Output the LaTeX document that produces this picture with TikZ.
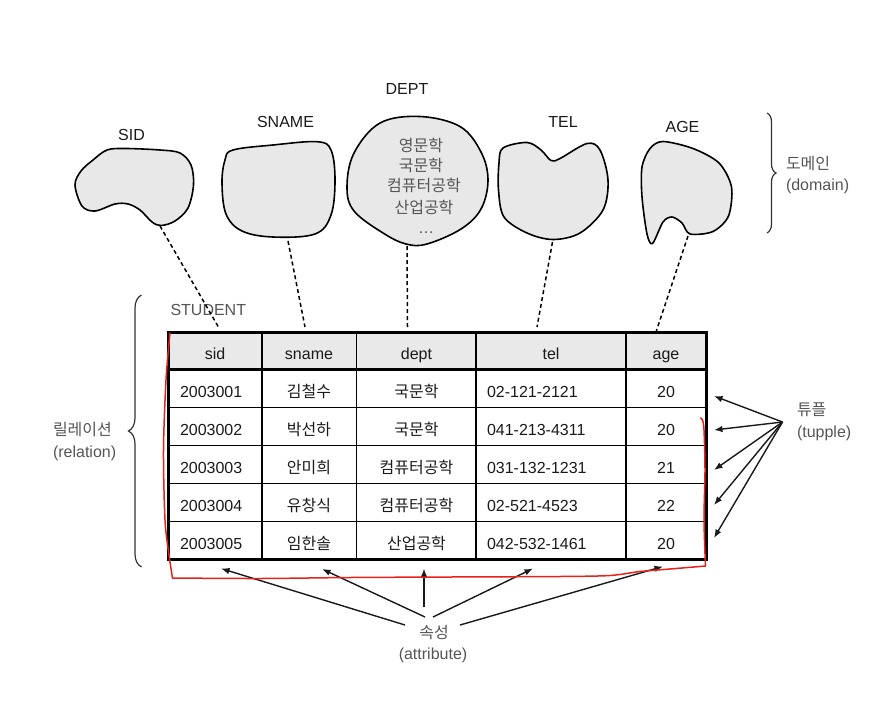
\documentclass[tikz,border=0pt]{standalone}
\usepackage{fontspec}
\setmainfont{Liberation Sans}
\newfontfamily\kr{Noto Sans CJK KR}
\usetikzlibrary{arrows.meta,decorations.pathreplacing}
\definecolor{blobgray}{HTML}{E8E8E8}
\definecolor{hdrgray}{HTML}{E9E9E9}
\definecolor{anngray}{HTML}{555555}
\definecolor{bracegray}{HTML}{333333}
\definecolor{txtblack}{HTML}{1A1A1A}
\definecolor{redink}{HTML}{E5231B}
\begin{document}
\begin{tikzpicture}[x=1pt,y=-1pt,
  every node/.style={inner sep=0pt, outer sep=0pt},
  txt/.style={font=\fontsize{16}{19}\selectfont, text=txtblack},
  ann/.style={font=\fontsize{16}{19}\selectfont, text=anngray},
  blob/.style={draw=black, line width=1.6pt, fill=blobgray, line join=round},
  domline/.style={dash pattern=on 4pt off 3pt, line width=1.5pt, black},
  arr/.style={-{Latex[length=8.5pt,width=6.5pt]}, line width=1.4pt, black!90},
  brc/.style={decorate, decoration={brace, amplitude=#1}, line width=1.2pt, bracegray},
  outerline/.style={line width=3pt, black},
  innerline/.style={line width=1.2pt, black},
  redline/.style={draw=redink, line width=1.5pt, line join=round, line cap=round}
]
\useasboundingbox (0,0) rectangle (893,709);

% ---------- domains (blobs) ----------
\draw[blob] plot[smooth cycle, tension=0.55] coordinates {(75,185) (81,171) (93,160) (107,150) (125,148.5) (160,150) (180,153) (191,165) (193.5,185) (188,208) (175,221) (161,225.5) (152,222) (140,210) (128,204) (115,204) (95,211) (82,206)};
\draw[blob] plot[smooth cycle, tension=0.6] coordinates {(233,150) (273,145) (317,141.7) (331,150) (335,180) (331,215) (315,234) (273,237) (242,231) (226,214) (222,183) (225,160)};
\draw[blob] plot[smooth cycle, tension=0.6] coordinates {(380,123) (420,116.5) (460,126.5) (481,152) (488,180) (481,209) (461,229) (427,244) (406,244) (383,233) (354,211) (347,187) (354,153)};
\draw[blob] plot[smooth cycle, tension=0.55] coordinates {(503,148) (527,142.5) (541,150) (551,160.5) (560,158.5) (587,143.5) (600,150) (608,180) (603,210) (580,233) (553,239.5) (527,233) (504,217) (498.5,190) (499,163)};
\draw[blob] plot[smooth cycle, tension=0.5] coordinates {(663,141.5) (693,148.5) (719,163) (731.5,187) (728.5,216) (713,231.5) (690,234) (682,223) (672,217) (663,222) (652.5,243.5) (647,234) (642,197) (642,167) (650,148.5)};

% domain labels
\node[txt, anchor=base] (lsid) at (131.5,140) {SID};
\node[txt, anchor=base] (lsname) at (285.5,127) {SNAME};
\node[txt, anchor=base] (ldept) at (407,94) {DEPT};
\node[txt, anchor=base] (ltel) at (563,127) {TEL};
\node[txt, anchor=base] (lage) at (682.5,132) {AGE};

% DEPT values
\node[txt, anchor=base, text=anngray] (d1) at (421,151) {\kr 영문학};
\node[txt, anchor=base, text=anngray] (d2) at (421,171) {\kr 국문학};
\node[txt, anchor=base, text=anngray] (d3) at (424,191) {\kr 컴퓨터공학};
\node[txt, anchor=base, text=anngray] (d4) at (424,213) {\kr 산업공학};
\node[txt, anchor=base, text=anngray] (d5) at (426,233) {\dots};

% ---------- table ----------
\fill[hdrgray] (168,332) rectangle (706,369.5);
\foreach \yy in {407.5,445.5,483.5,521.5} {\draw[innerline] (168,\yy) -- (706,\yy);}
\foreach \xx in {262,356.5,476,626} {\draw[innerline] (\xx,332) -- (\xx,559.5);}
\draw[line width=2.4pt] (168,369.5) -- (706,369.5);
\draw[outerline] (168,332) rectangle (706,559.5);

\node[txt, anchor=base] (hsid) at (215,359) {sid};
\node[txt, anchor=base] (hsname) at (309,359) {sname};
\node[txt, anchor=base] (hdept) at (416.5,359) {dept};
\node[txt, anchor=base] (htel) at (551,359) {tel};
\node[txt, anchor=base] (hage) at (666,359) {age};

\foreach \vid/\vnm/\vdv/\vtn/\vag [count=\k] in {2003001/김철수/국문학/02-121-2121/20, 2003002/박선하/국문학/041-213-4311/20, 2003003/안미희/컴퓨터공학/031-132-1231/21, 2003004/유창식/컴퓨터공학/02-521-4523/22, 2003005/임한솔/산업공학/042-532-1461/20} {
  \pgfmathsetmacro{\yb}{369.5+38*(\k-1)+28}
  \node[txt, anchor=base west] (id\k) at (180,\yb) {\vid};
  \node[txt, anchor=base] (nm\k) at (309,\yb) {\kr \vnm};
  \node[txt, anchor=base] (dv\k) at (416.5,\yb) {\kr \vdv};
  \node[txt, anchor=base west] (tn\k) at (487,\yb) {\vtn};
  \node[txt, anchor=base] (ag\k) at (666,\yb) {\vag};
}

\node[ann, anchor=west] (student) at (170.5,310) {STUDENT};

% ---------- dashed domain links ----------
\coordinate (sidb) at (160,226);   \coordinate (sidt) at (219,328);
\coordinate (snameb) at (288,241); \coordinate (snamet) at (305,327);
\coordinate (deptb) at (407,246);  \coordinate (deptt) at (407.5,327);
\coordinate (telb) at (552.5,242); \coordinate (telt) at (537,327);
\coordinate (ageb) at (688,236);   \coordinate (aget) at (655,335);
\draw[domline] (sidb) -- (sidt);
\draw[domline] (snameb) -- (snamet);
\draw[domline] (deptb) -- (deptt);
\draw[domline] (telb) -- (telt);
\draw[domline] (ageb) -- (aget);

% ---------- braces ----------
\coordinate (domtop) at (767,113); \coordinate (dombot) at (767,233);
\draw[brc=9pt] (domtop) -- (dombot);
\node[ann, anchor=west] (dom1) at (786,164) {\kr 도메인};
\node[ann, anchor=west] (dom2) at (786,186) {(domain)};

\coordinate (reltop) at (141.5,295); \coordinate (relbot) at (141.5,567);
\draw[brc=13pt] (relbot) -- (reltop);
\node[ann, anchor=west] (rel1) at (53,430) {\kr 릴레이션};
\node[ann, anchor=west] (rel2) at (53,453) {(relation)};

% ---------- tuple arrows ----------
\coordinate (tupsrc) at (782.5,422);
\foreach \ty [count=\t] in {396,430,470,505,538} {
  \coordinate (tup\t) at (714,\ty);
  \draw[arr] (tupsrc) -- (tup\t);
}
\node[ann, anchor=west] (tup) at (797,410) {\kr 튜플};
\node[ann, anchor=west] (tupen) at (797,433) {(tupple)};

% ---------- attribute arrows ----------
\coordinate (as1) at (405,625);   \coordinate (at1) at (221,568.5);
\coordinate (as2) at (425,617);   \coordinate (at2) at (322,569);
\coordinate (as3) at (424,607);   \coordinate (at3) at (424,568.5);
\coordinate (as4) at (433,617);   \coordinate (at4) at (533,568.5);
\coordinate (as5) at (460,625);   \coordinate (at5) at (663,566.5);
\foreach \a in {1,...,5} {\draw[arr] (as\a) -- (at\a);}
\node[ann] (attr1) at (434,632) {\kr 속성};
\node[ann] (attr2) at (433,655) {(attribute)};

% ---------- red freehand outline ----------
\draw[redline] plot[smooth, tension=0.5] coordinates {(170,333) (166,380) (163.5,450) (165,520) (169,555) (172.5,578)};
\draw[redline] plot[smooth, tension=0.5] coordinates {(172.5,578) (260,578.5) (350,577.5) (450,577) (560,576.5) (610,575.5) (640,571.5) (670,569) (705.5,566)};
\draw[redline] plot[smooth, tension=0.5] coordinates {(705.5,566) (704,520) (705,470) (704,430) (702.5,420) (700.5,418)};
\end{tikzpicture}
\end{document}
